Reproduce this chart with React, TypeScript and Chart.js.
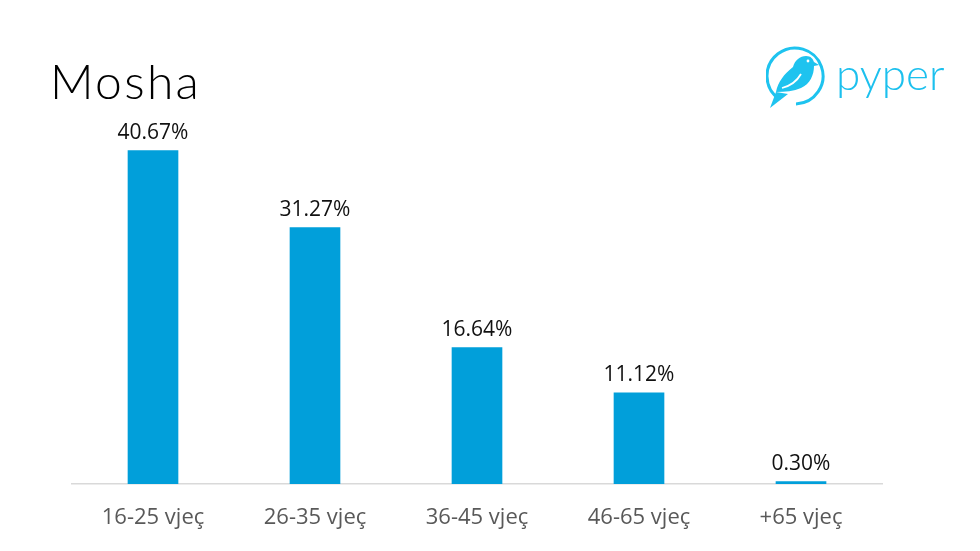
import React, { useEffect, useRef } from "react";
import { Chart, registerables } from "chart.js";

Chart.register(...registerables);

const categories = ["16-25 vjeç", "26-35 vjeç", "36-45 vjeç", "46-65 vjeç", "+65 vjeç"];
const values = [40.67, 31.27, 16.64, 11.12, 0.3];
const valueLabels = ["40.67%", "31.27%", "16.64%", "11.12%", "0.30%"];
const title = "Mosha";
const brand = "pyper";

const labelPlugin = {
  id: "valueLabels",
  afterDatasetsDraw(chart: any) {
    const { ctx } = chart;
    const meta = chart.getDatasetMeta(0);
    ctx.save();
    ctx.font = "21px 'Open Sans', 'Noto Sans', sans-serif";
    ctx.fillStyle = "#111111";
    ctx.textAlign = "center";
    ctx.textBaseline = "bottom";
    meta.data.forEach((bar: any, i: number) => {
      ctx.fillText(valueLabels[i], bar.x, bar.y - 7);
    });
    ctx.restore();
  },
};

export default function App() {
  const ref = useRef<HTMLCanvasElement>(null);
  useEffect(() => {
    if (!ref.current) return;
    const chart = new Chart(ref.current, {
      type: "bar",
      data: {
        labels: categories,
        datasets: [
          {
            data: values,
            backgroundColor: "#019fda",
            barThickness: 50,
          },
        ],
      },
      options: {
        responsive: false,
        animation: false,
        layout: { padding: { left: 72, right: 98, top: 115, bottom: 0 } },
        plugins: { legend: { display: false }, tooltip: { enabled: false } },
        scales: {
          x: {
            grid: { display: false, drawTicks: false },
            border: { display: true, color: "#d9d9d9", width: 1.5 },
            ticks: {
              color: "#595959",
              font: { family: "'Open Sans', 'Noto Sans', sans-serif", size: 22 },
              padding: 21,
              maxRotation: 0,
            },
            afterFit: (scale: any) => {
              scale.height = 67;
            },
          },
          y: { display: false, min: 0, max: 45 },
        },
      },
      plugins: [labelPlugin],
    });
    return () => chart.destroy();
  }, []);

  return (
    <div style={{ position: "absolute", left: 0, top: 0, width: 980, height: 551, background: "#fff", overflow: "hidden" }}>
      <canvas ref={ref} width={980} height={551} style={{ position: "absolute", left: 0, top: 0 }} />
      <div
        style={{
          position: "absolute",
          left: 50,
          top: 51,
          fontFamily: "Lato, 'DejaVu Sans', sans-serif",
          fontWeight: 300,
          fontSize: 48,
          lineHeight: "60px",
          color: "#000",
          letterSpacing: 2.3,
        }}
      >
        {title}
      </div>
      <svg width={64} height={68} viewBox="0 0 64 68" style={{ position: "absolute", left: 766, top: 44 }}>
        <path d="M 13 55 A 28 28 0 1 1 30 60" fill="none" stroke="#1ec3ef" strokeWidth={3} />
        <path
          d="M 10 48 C 12 38 18 30 27 23 C 29 16 34 12 40 12 C 45 12 47 15 48 18 L 53 21 L 48 22 C 48 31 44 40 35 44 C 28 47 19 48 10 48 Z"
          fill="#1ec3ef"
        />
        <path d="M 16 44 C 24 42 31 37 35 30" fill="none" stroke="#fff" strokeWidth={1.8} />
        <path d="M 10 48 L 22 50 L 4 64 Z" fill="#1ec3ef" />
        <circle cx={42} cy={17} r={1.4} fill="#fff" />
      </svg>
      <div
        style={{
          position: "absolute",
          left: 836,
          top: 45,
          fontFamily: "Lato, 'Open Sans', sans-serif",
          fontWeight: 300,
          fontSize: 44,
          lineHeight: "56px",
          color: "#1cc0ee",
          letterSpacing: 0,
        }}
      >
        {brand}
      </div>
    </div>
  );
}
